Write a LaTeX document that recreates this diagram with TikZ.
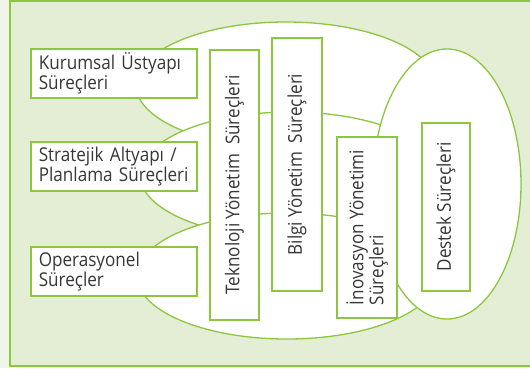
\documentclass[tikz,border=0pt]{standalone}
\usepackage{fontspec}
\setmainfont{Open Sans}[FakeStretch=0.9]
\usetikzlibrary{positioning}
\definecolor{leafline}{RGB}{141,198,63}
\definecolor{leaffill}{RGB}{227,238,213}
\definecolor{leafpale}{RGB}{239,245,233}
\definecolor{inkgray}{RGB}{55,55,55}

\begin{document}
\begin{tikzpicture}[
    x=1pt, y=-1pt,
    oval/.style={draw=leafline, fill=white, line width=1.3pt},
    box/.style={rectangle, draw=leafline, fill=white, line width=2pt, text=inkgray, font=\fontsize{19}{20}\selectfont, inner sep=0pt},
    sidebox/.style={box, minimum width=166pt, minimum height=49pt, text width=150pt, align=left},
    vbox/.style={box, rotate=90, align=left}
]
\useasboundingbox (0,0) rectangle (530,368);
\fill [leafpale] (0,0) rectangle (530,368);
\draw [leafline, fill=leaffill, line width=2pt] (9.5,0.6) rectangle (545,366);

\draw [oval] (286,85) ellipse [x radius=150, y radius=63];
\draw [oval] (290,175) ellipse [x radius=150, y radius=63];
\draw [oval] (287,276) ellipse [x radius=150, y radius=63];
\draw [oval] (447,184) ellipse [x radius=74, y radius=135];

\node [sidebox] (kurumsal) at (113.8,73.7) {Kurumsal Üstyapı\\Süreçleri};
\node [sidebox, below=42pt of kurumsal] (stratejik) {Stratejik Altyapı /\\Planlama Süreçleri};
\node [sidebox, below=54pt of stratejik] (operasyonel) {Operasyonel\\Süreçler};

\node [vbox, minimum width=270pt, minimum height=49pt] (teknoloji) at (234.5,185) {Teknoloji Yönetim\ \ Süreçleri};
\node [vbox, minimum width=253pt, minimum height=50pt] (bilgi) at (297,164.5) {Bilgi Yönetim\ \ Süreçleri};
\node [vbox, minimum width=181pt, minimum height=60pt] (inovasyon) at (367,227.5) {İnovasyon Yönetimi\\Süreçleri};
\node [vbox, minimum width=168pt, minimum height=48pt] (destek) at (446,207) {Destek Süreçleri};

\end{tikzpicture}
\end{document}
